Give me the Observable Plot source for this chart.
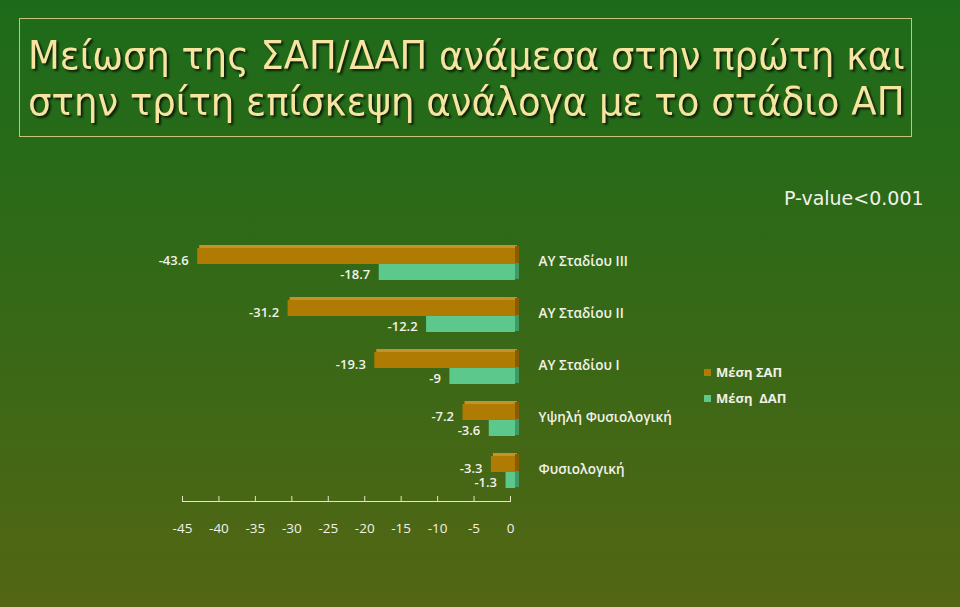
<!DOCTYPE html>
<html>
<head>
<meta charset="utf-8">
<script src="https://cdn.jsdelivr.net/npm/d3@7"></script>
<script src="https://cdn.jsdelivr.net/npm/@observablehq/plot@0.6"></script>
<style>
  html, body { margin: 0; padding: 0; }
  body {
    width: 960px; height: 607px; overflow: hidden; position: relative;
    background: linear-gradient(to bottom, #1d6b1a 0%, #2a6a18 30%, #3e6816 65%, #536614 100%);
    font-family: "Open Sans", "DejaVu Sans", sans-serif;
  }
  #titlebox {
    position: absolute; left: 19px; top: 18px; width: 893px; height: 119px;
    border: 1px solid #c9c27a; box-sizing: border-box;
  }
  #titlesvg { position: absolute; left: 0; top: 0; }
  #pvalue {
    position: absolute; left: 784px; top: 187px; font-family: "DejaVu Sans", sans-serif;
    font-size: 19px; color: #f2f2ea; white-space: nowrap;
  }
  #legend {
    position: absolute; left: 704px; top: 359px; color: #f0f0e6;
    font-family: "Open Sans", sans-serif; font-weight: 700; font-size: 13px;
  }
  #legend .row { display: flex; align-items: center; height: 26px; white-space: pre; }
  #legend .sw { width: 7px; height: 7px; margin-right: 5px; }
  #chart { position: absolute; left: 0; top: 0; }
</style>
</head>
<body>
<div id="titlebox"></div>
<svg id="titlesvg" width="960" height="150"></svg>
<div id="pvalue"></div>
<div id="chart"></div>
<div id="legend"></div>
<script>
const titleLines = ["Μείωση της ΣΑΠ/ΔΑΠ ανάμεσα στην πρώτη και", "στην τρίτη επίσκεψη ανάλογα με το στάδιο ΑΠ"];
const pText = "P-value<0.001";
const categories = ["ΑΥ Σταδίου III", "ΑΥ Σταδίου II", "ΑΥ Σταδίου I", "Υψηλή Φυσιολογική", "Φυσιολογική"];
const sapValues = [-43.6, -31.2, -19.3, -7.2, -3.3];
const dapValues = [-18.7, -12.2, -9, -3.6, -1.3];
const seriesNames = ["Μέση ΣΑΠ", "Μέση  ΔΑΠ"];
const xTicks = [-45, -40, -35, -30, -25, -20, -15, -10, -5, 0];

const orange = "#b07b02", orangeSide = "#875c02", orangeTop = "#c4922a";
const green = "#5cc88b", greenSide = "#3f9a66";

// Title: one text element, two lines, each fitted to 877px wide, stretched vertically
const tsvg = d3.select("#titlesvg");
const g = tsvg.append("g");
const tEl = g.append("text")
  .attr("font-family", "'DejaVu Sans Condensed', 'DejaVu Sans', sans-serif")
  .attr("font-size", 40)
  .attr("fill", "#f6e4a0")
  .style("filter", "drop-shadow(2px 2px 1px rgba(0,0,0,0.75))");
const spans = titleLines.map(t => tEl.append("tspan").attr("x", 0).attr("font-size", 40).text(t));
const sizes = spans.map(s => 40 * 877 / s.node().getComputedTextLength());
const fsRef = Math.min(...sizes);
const sy = 39 / fsRef;
spans.forEach((s, i) => s.attr("font-size", sizes[i]).attr("y", i * 46 / sy));
g.attr("transform", `translate(28,69) scale(1,${sy})`);
document.getElementById("pvalue").textContent = pText;

// Legend
const leg = d3.select("#legend");
[orange, green].forEach((c, i) => {
  const r = leg.append("div").attr("class", "row");
  r.append("div").attr("class", "sw").style("background", c);
  r.append("span").text(seriesNames[i]);
});

const sapRows = categories.map((c, i) => ({cat: c, v: sapValues[i]}));
const dapRows = categories.map((c, i) => ({cat: c, v: dapValues[i]}));

const txt = "#f2f2ea";
const font = "'Open Sans', 'DejaVu Sans', sans-serif";

const chart = Plot.plot({
  width: 960,
  height: 607,
  marginLeft: 182,
  marginRight: 450,
  marginTop: 228,
  marginBottom: 106,
  style: {background: "transparent", color: txt, fontFamily: font, overflow: "visible"},
  x: {domain: [-45, 0], label: null},
  y: {type: "band", domain: categories, range: [228, 508], padding: 0.3846, axis: null},
  marks: [
    Plot.frame({anchor: "bottom", stroke: "#e6e4cc"}),
    Plot.axisX({ticks: xTicks, tickSize: 5, dy: -5, tickFormat: () => "", label: null, stroke: "#e6e4cc"}),
    Plot.axisX({ticks: xTicks, tickSize: 0, tickPadding: 22, tickFormat: d => String(d), label: null, fontSize: 13.5, fill: txt}),
    // orange series (upper half of each band)
    Plot.barX(sapRows, {x1: "v", x2: () => 0, y: "cat", insetBottom: 16, insetTop: -3, dx: 7, fill: orangeTop}),
    Plot.barX(sapRows, {x1: () => 0, x2: () => 0, y: "cat", insetBottom: 17, insetTop: -2, insetRight: -4, dx: 5, fill: orangeSide}),
    Plot.barX(sapRows, {x1: "v", x2: () => 0, y: "cat", insetBottom: 16, dx: 5, fill: orange}),
    // green series (lower half)
    Plot.barX(dapRows, {x1: () => 0, x2: () => 0, y: "cat", insetTop: 15, insetBottom: 1, insetRight: -4, dx: 5, fill: greenSide}),
    Plot.barX(dapRows, {x1: "v", x2: () => 0, y: "cat", insetTop: 16, dx: 5, fill: green}),
    // value labels
    Plot.text(sapRows, {x: "v", y: "cat", text: d => String(d.v), textAnchor: "end", dx: -4, dy: -4, fontSize: 13, fontWeight: 600, fill: txt}),
    Plot.text(dapRows, {x: "v", y: "cat", text: d => String(d.v), textAnchor: "end", dx: -4, dy: 10, fontSize: 13, fontWeight: 600, fill: txt}),
    // category labels
    Plot.text(sapRows, {x: () => 0, y: "cat", text: "cat", textAnchor: "start", dx: 28, dy: -3, fontSize: 13.5, fontWeight: 600, fill: txt})
  ]
});
document.getElementById("chart").appendChild(chart);
</script>
</body>
</html>
